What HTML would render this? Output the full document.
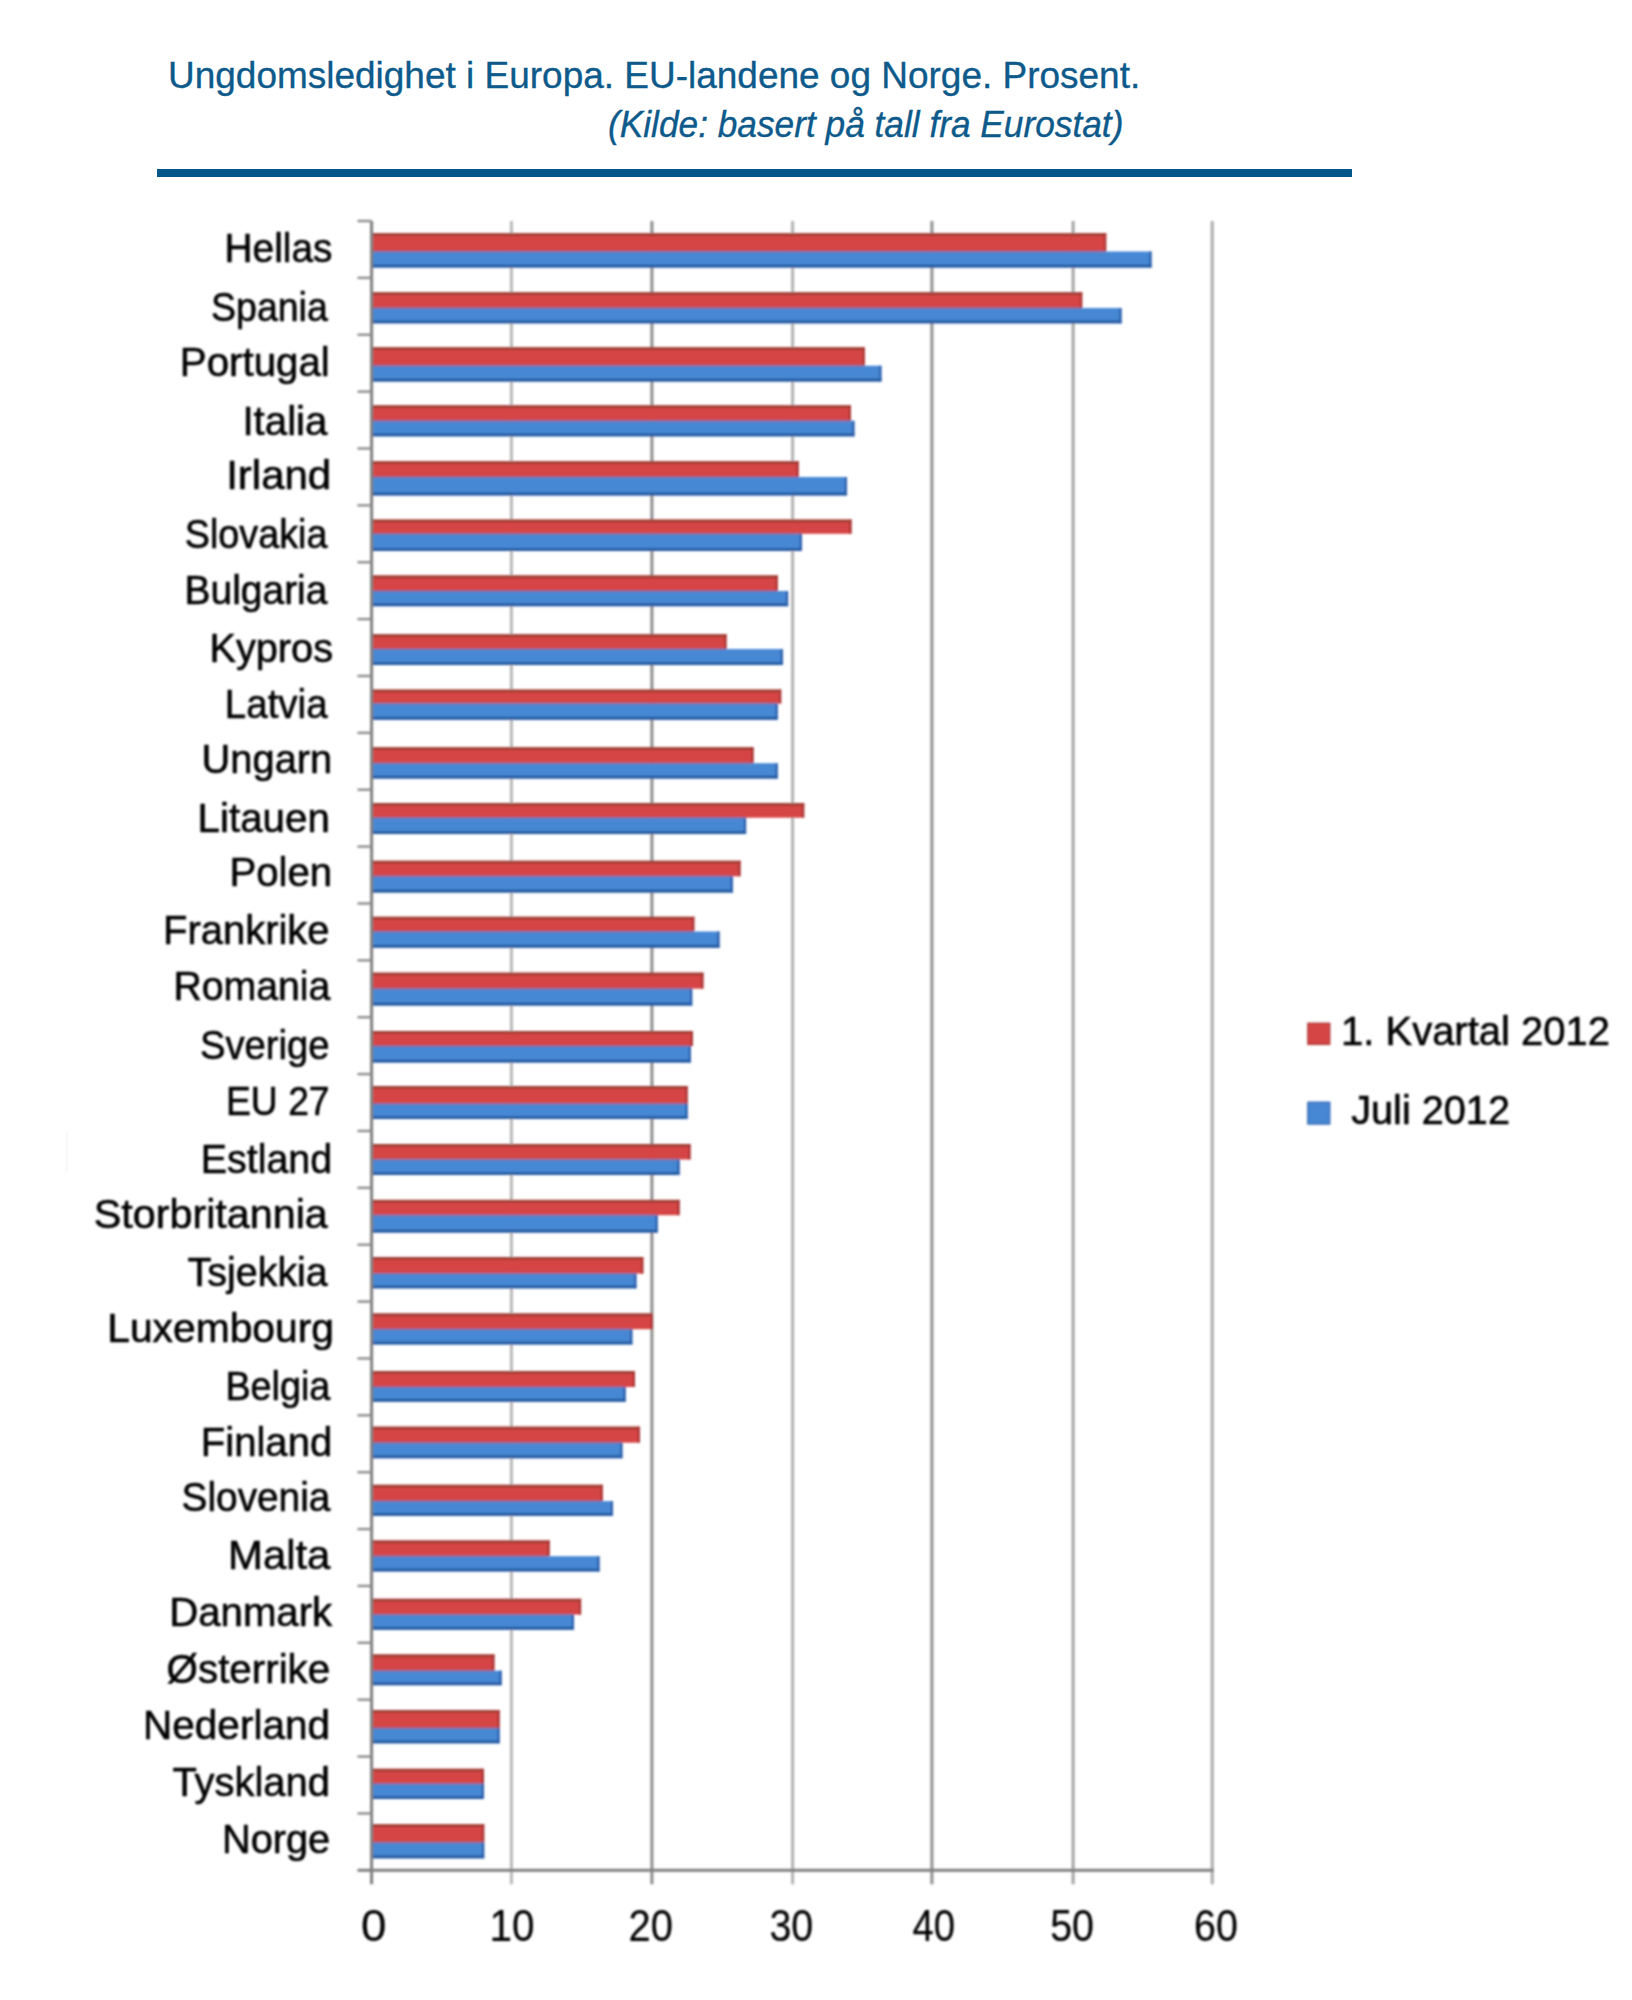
<!DOCTYPE html>
<html><head><meta charset="utf-8"><title>Ungdomsledighet i Europa</title>
<style>
html,body{margin:0;padding:0;background:#fff;}
body{width:1632px;height:2000px;overflow:hidden;position:relative;}
svg{position:absolute;left:0;top:0;display:block;}
.t{font-family:"Liberation Sans",Arial,sans-serif;fill:#0d5a8b;stroke:#0d5a8b;stroke-width:0.35px;}
.l{font-family:"Liberation Sans",Arial,sans-serif;fill:#050505;stroke:#050505;stroke-width:0.6px;}
</style></head><body>
<svg width="1632" height="2000" viewBox="0 0 1632 2000">
<defs><filter id="b" x="-2%" y="-2%" width="104%" height="104%"><feGaussianBlur stdDeviation="1.0"/></filter></defs>
<rect x="157" y="169" width="1195" height="8" fill="#03588a"/>
<g filter="url(#b)">
<rect x="66" y="1133" width="1.2" height="40" fill="#efefef"/>
<rect x="509.9" y="221" width="3" height="1663.3" fill="#b8b8b8"/>
<rect x="650.4" y="221" width="3" height="1663.3" fill="#8c8c8c"/>
<rect x="791.1" y="221" width="3" height="1663.3" fill="#b2b2b2"/>
<rect x="930.4" y="221" width="3" height="1663.3" fill="#8f8f8f"/>
<rect x="1071.6" y="221" width="3" height="1663.3" fill="#a2a2a2"/>
<rect x="1210.7" y="221" width="3" height="1663.3" fill="#aaaaaa"/>
<rect x="372.6" y="233.3" width="733.6" height="18.2" fill="#d64444"/>
<rect x="372.6" y="233.3" width="733.6" height="2.6" fill="#9c3c32"/>
<rect x="1104" y="233.3" width="2.2" height="18.2" fill="#a83434"/>
<rect x="372.6" y="251.5" width="778.9" height="16" fill="#4688d4"/>
<rect x="372.6" y="264.7" width="778.9" height="2.8" fill="#22569e"/>
<rect x="1149.3" y="251.5" width="2.2" height="16" fill="#2a5ca8"/>
<rect x="372.6" y="250.5" width="731.8" height="2" fill="#8c6a9c" fill-opacity="0.75"/>
<rect x="372.6" y="292.3" width="709.6" height="15.7" fill="#d64444"/>
<rect x="372.6" y="292.3" width="709.6" height="2.6" fill="#9c3c32"/>
<rect x="1080" y="292.3" width="2.2" height="15.7" fill="#a83434"/>
<rect x="372.6" y="308" width="748.9" height="15.3" fill="#4688d4"/>
<rect x="372.6" y="320.5" width="748.9" height="2.8" fill="#22569e"/>
<rect x="1119.3" y="308" width="2.2" height="15.3" fill="#2a5ca8"/>
<rect x="372.6" y="307" width="707.8" height="2" fill="#8c6a9c" fill-opacity="0.75"/>
<rect x="372.6" y="347.3" width="492.1" height="18.4" fill="#d64444"/>
<rect x="372.6" y="347.3" width="492.1" height="2.6" fill="#9c3c32"/>
<rect x="862.5" y="347.3" width="2.2" height="18.4" fill="#a83434"/>
<rect x="372.6" y="365.7" width="508.8" height="15.8" fill="#4688d4"/>
<rect x="372.6" y="378.7" width="508.8" height="2.8" fill="#22569e"/>
<rect x="879.2" y="365.7" width="2.2" height="15.8" fill="#2a5ca8"/>
<rect x="372.6" y="364.7" width="490.3" height="2" fill="#8c6a9c" fill-opacity="0.75"/>
<rect x="372.6" y="405.4" width="478.3" height="15.4" fill="#d64444"/>
<rect x="372.6" y="405.4" width="478.3" height="2.6" fill="#9c3c32"/>
<rect x="848.7" y="405.4" width="2.2" height="15.4" fill="#a83434"/>
<rect x="372.6" y="420.8" width="481.8" height="15.5" fill="#4688d4"/>
<rect x="372.6" y="433.5" width="481.8" height="2.8" fill="#22569e"/>
<rect x="852.2" y="420.8" width="2.2" height="15.5" fill="#2a5ca8"/>
<rect x="372.6" y="419.8" width="476.5" height="2" fill="#8c6a9c" fill-opacity="0.75"/>
<rect x="372.6" y="461.3" width="426" height="15.7" fill="#d64444"/>
<rect x="372.6" y="461.3" width="426" height="2.6" fill="#9c3c32"/>
<rect x="796.4" y="461.3" width="2.2" height="15.7" fill="#a83434"/>
<rect x="372.6" y="477" width="474.3" height="18.4" fill="#4688d4"/>
<rect x="372.6" y="492.6" width="474.3" height="2.8" fill="#22569e"/>
<rect x="844.7" y="477" width="2.2" height="18.4" fill="#2a5ca8"/>
<rect x="372.6" y="476" width="424.2" height="2" fill="#8c6a9c" fill-opacity="0.75"/>
<rect x="372.6" y="519.6" width="478.9" height="14.2" fill="#d64444"/>
<rect x="372.6" y="519.6" width="478.9" height="2.6" fill="#9c3c32"/>
<rect x="849.3" y="519.6" width="2.2" height="14.2" fill="#a83434"/>
<rect x="372.6" y="533.8" width="429.4" height="17.2" fill="#4688d4"/>
<rect x="372.6" y="548.2" width="429.4" height="2.8" fill="#22569e"/>
<rect x="799.8" y="533.8" width="2.2" height="17.2" fill="#2a5ca8"/>
<rect x="372.6" y="532.8" width="427.6" height="2" fill="#8c6a9c" fill-opacity="0.75"/>
<rect x="372.6" y="575.5" width="405.1" height="15.5" fill="#d64444"/>
<rect x="372.6" y="575.5" width="405.1" height="2.6" fill="#9c3c32"/>
<rect x="775.5" y="575.5" width="2.2" height="15.5" fill="#a83434"/>
<rect x="372.6" y="591" width="415.5" height="15.2" fill="#4688d4"/>
<rect x="372.6" y="603.4" width="415.5" height="2.8" fill="#22569e"/>
<rect x="785.9" y="591" width="2.2" height="15.2" fill="#2a5ca8"/>
<rect x="372.6" y="590" width="403.3" height="2" fill="#8c6a9c" fill-opacity="0.75"/>
<rect x="372.6" y="634.3" width="353.9" height="14.7" fill="#d64444"/>
<rect x="372.6" y="634.3" width="353.9" height="2.6" fill="#9c3c32"/>
<rect x="724.3" y="634.3" width="2.2" height="14.7" fill="#a83434"/>
<rect x="372.6" y="649" width="410.3" height="16" fill="#4688d4"/>
<rect x="372.6" y="662.2" width="410.3" height="2.8" fill="#22569e"/>
<rect x="780.7" y="649" width="2.2" height="16" fill="#2a5ca8"/>
<rect x="372.6" y="648" width="352.1" height="2" fill="#8c6a9c" fill-opacity="0.75"/>
<rect x="372.6" y="689.6" width="408.6" height="13.9" fill="#d64444"/>
<rect x="372.6" y="689.6" width="408.6" height="2.6" fill="#9c3c32"/>
<rect x="779" y="689.6" width="2.2" height="13.9" fill="#a83434"/>
<rect x="372.6" y="703.5" width="405.1" height="16.2" fill="#4688d4"/>
<rect x="372.6" y="716.9" width="405.1" height="2.8" fill="#22569e"/>
<rect x="775.5" y="703.5" width="2.2" height="16.2" fill="#2a5ca8"/>
<rect x="372.6" y="702.5" width="403.3" height="2" fill="#8c6a9c" fill-opacity="0.75"/>
<rect x="372.6" y="747.3" width="380.9" height="15.9" fill="#d64444"/>
<rect x="372.6" y="747.3" width="380.9" height="2.6" fill="#9c3c32"/>
<rect x="751.3" y="747.3" width="2.2" height="15.9" fill="#a83434"/>
<rect x="372.6" y="763.2" width="405.1" height="15.3" fill="#4688d4"/>
<rect x="372.6" y="775.7" width="405.1" height="2.8" fill="#22569e"/>
<rect x="775.5" y="763.2" width="2.2" height="15.3" fill="#2a5ca8"/>
<rect x="372.6" y="762.2" width="379.1" height="2" fill="#8c6a9c" fill-opacity="0.75"/>
<rect x="372.6" y="803" width="431.6" height="14.7" fill="#d64444"/>
<rect x="372.6" y="803" width="431.6" height="2.6" fill="#9c3c32"/>
<rect x="802" y="803" width="2.2" height="14.7" fill="#a83434"/>
<rect x="372.6" y="817.7" width="373.5" height="16.3" fill="#4688d4"/>
<rect x="372.6" y="831.2" width="373.5" height="2.8" fill="#22569e"/>
<rect x="743.9" y="817.7" width="2.2" height="16.3" fill="#2a5ca8"/>
<rect x="372.6" y="816.7" width="371.7" height="2" fill="#8c6a9c" fill-opacity="0.75"/>
<rect x="372.6" y="860.8" width="367.9" height="15.5" fill="#d64444"/>
<rect x="372.6" y="860.8" width="367.9" height="2.6" fill="#9c3c32"/>
<rect x="738.3" y="860.8" width="2.2" height="15.5" fill="#a83434"/>
<rect x="372.6" y="876.3" width="360.2" height="16.2" fill="#4688d4"/>
<rect x="372.6" y="889.7" width="360.2" height="2.8" fill="#22569e"/>
<rect x="730.6" y="876.3" width="2.2" height="16.2" fill="#2a5ca8"/>
<rect x="372.6" y="875.3" width="358.4" height="2" fill="#8c6a9c" fill-opacity="0.75"/>
<rect x="372.6" y="916.8" width="321.7" height="14.7" fill="#d64444"/>
<rect x="372.6" y="916.8" width="321.7" height="2.6" fill="#9c3c32"/>
<rect x="692.1" y="916.8" width="2.2" height="14.7" fill="#a83434"/>
<rect x="372.6" y="931.5" width="346.9" height="16.2" fill="#4688d4"/>
<rect x="372.6" y="944.9" width="346.9" height="2.8" fill="#22569e"/>
<rect x="717.3" y="931.5" width="2.2" height="16.2" fill="#2a5ca8"/>
<rect x="372.6" y="930.5" width="319.9" height="2" fill="#8c6a9c" fill-opacity="0.75"/>
<rect x="372.6" y="972.7" width="330.8" height="16" fill="#d64444"/>
<rect x="372.6" y="972.7" width="330.8" height="2.6" fill="#9c3c32"/>
<rect x="701.2" y="972.7" width="2.2" height="16" fill="#a83434"/>
<rect x="372.6" y="988.7" width="319.6" height="16.8" fill="#4688d4"/>
<rect x="372.6" y="1002.7" width="319.6" height="2.8" fill="#22569e"/>
<rect x="690" y="988.7" width="2.2" height="16.8" fill="#2a5ca8"/>
<rect x="372.6" y="987.7" width="317.8" height="2" fill="#8c6a9c" fill-opacity="0.75"/>
<rect x="372.6" y="1031" width="320.3" height="15" fill="#d64444"/>
<rect x="372.6" y="1031" width="320.3" height="2.6" fill="#9c3c32"/>
<rect x="690.7" y="1031" width="2.2" height="15" fill="#a83434"/>
<rect x="372.6" y="1046" width="318.2" height="16.5" fill="#4688d4"/>
<rect x="372.6" y="1059.7" width="318.2" height="2.8" fill="#22569e"/>
<rect x="688.6" y="1046" width="2.2" height="16.5" fill="#2a5ca8"/>
<rect x="372.6" y="1045" width="316.4" height="2" fill="#8c6a9c" fill-opacity="0.75"/>
<rect x="372.6" y="1086" width="315" height="17.8" fill="#d64444"/>
<rect x="372.6" y="1086" width="315" height="2.6" fill="#9c3c32"/>
<rect x="685.4" y="1086" width="2.2" height="17.8" fill="#a83434"/>
<rect x="372.6" y="1103.8" width="315" height="15.2" fill="#4688d4"/>
<rect x="372.6" y="1116.2" width="315" height="2.8" fill="#22569e"/>
<rect x="685.4" y="1103.8" width="2.2" height="15.2" fill="#2a5ca8"/>
<rect x="372.6" y="1102.8" width="313.2" height="2" fill="#8c6a9c" fill-opacity="0.75"/>
<rect x="372.6" y="1144" width="317.9" height="15.5" fill="#d64444"/>
<rect x="372.6" y="1144" width="317.9" height="2.6" fill="#9c3c32"/>
<rect x="688.3" y="1144" width="2.2" height="15.5" fill="#a83434"/>
<rect x="372.6" y="1159.5" width="307" height="15.5" fill="#4688d4"/>
<rect x="372.6" y="1172.2" width="307" height="2.8" fill="#22569e"/>
<rect x="677.4" y="1159.5" width="2.2" height="15.5" fill="#2a5ca8"/>
<rect x="372.6" y="1158.5" width="305.2" height="2" fill="#8c6a9c" fill-opacity="0.75"/>
<rect x="372.6" y="1199.9" width="307" height="15.3" fill="#d64444"/>
<rect x="372.6" y="1199.9" width="307" height="2.6" fill="#9c3c32"/>
<rect x="677.4" y="1199.9" width="2.2" height="15.3" fill="#a83434"/>
<rect x="372.6" y="1215.2" width="285.1" height="17.3" fill="#4688d4"/>
<rect x="372.6" y="1229.7" width="285.1" height="2.8" fill="#22569e"/>
<rect x="655.5" y="1215.2" width="2.2" height="17.3" fill="#2a5ca8"/>
<rect x="372.6" y="1214.2" width="283.3" height="2" fill="#8c6a9c" fill-opacity="0.75"/>
<rect x="372.6" y="1257" width="270.7" height="16.6" fill="#d64444"/>
<rect x="372.6" y="1257" width="270.7" height="2.6" fill="#9c3c32"/>
<rect x="641.1" y="1257" width="2.2" height="16.6" fill="#a83434"/>
<rect x="372.6" y="1273.6" width="263.8" height="14.7" fill="#4688d4"/>
<rect x="372.6" y="1285.5" width="263.8" height="2.8" fill="#22569e"/>
<rect x="634.2" y="1273.6" width="2.2" height="14.7" fill="#2a5ca8"/>
<rect x="372.6" y="1272.6" width="262" height="2" fill="#8c6a9c" fill-opacity="0.75"/>
<rect x="372.6" y="1313.5" width="280.4" height="15.7" fill="#d64444"/>
<rect x="372.6" y="1313.5" width="280.4" height="2.6" fill="#9c3c32"/>
<rect x="650.8" y="1313.5" width="2.2" height="15.7" fill="#a83434"/>
<rect x="372.6" y="1329.2" width="259.7" height="15.2" fill="#4688d4"/>
<rect x="372.6" y="1341.6" width="259.7" height="2.8" fill="#22569e"/>
<rect x="630.1" y="1329.2" width="2.2" height="15.2" fill="#2a5ca8"/>
<rect x="372.6" y="1328.2" width="257.9" height="2" fill="#8c6a9c" fill-opacity="0.75"/>
<rect x="372.6" y="1371" width="262.4" height="16" fill="#d64444"/>
<rect x="372.6" y="1371" width="262.4" height="2.6" fill="#9c3c32"/>
<rect x="632.8" y="1371" width="2.2" height="16" fill="#a83434"/>
<rect x="372.6" y="1387" width="253" height="14.7" fill="#4688d4"/>
<rect x="372.6" y="1398.9" width="253" height="2.8" fill="#22569e"/>
<rect x="623.4" y="1387" width="2.2" height="14.7" fill="#2a5ca8"/>
<rect x="372.6" y="1386" width="251.2" height="2" fill="#8c6a9c" fill-opacity="0.75"/>
<rect x="372.6" y="1426.7" width="267.4" height="16" fill="#d64444"/>
<rect x="372.6" y="1426.7" width="267.4" height="2.6" fill="#9c3c32"/>
<rect x="637.8" y="1426.7" width="2.2" height="16" fill="#a83434"/>
<rect x="372.6" y="1442.7" width="249.8" height="15.5" fill="#4688d4"/>
<rect x="372.6" y="1455.4" width="249.8" height="2.8" fill="#22569e"/>
<rect x="620.2" y="1442.7" width="2.2" height="15.5" fill="#2a5ca8"/>
<rect x="372.6" y="1441.7" width="248" height="2" fill="#8c6a9c" fill-opacity="0.75"/>
<rect x="372.6" y="1484.8" width="230.1" height="16.3" fill="#d64444"/>
<rect x="372.6" y="1484.8" width="230.1" height="2.6" fill="#9c3c32"/>
<rect x="600.5" y="1484.8" width="2.2" height="16.3" fill="#a83434"/>
<rect x="372.6" y="1501.1" width="240.4" height="14.7" fill="#4688d4"/>
<rect x="372.6" y="1513" width="240.4" height="2.8" fill="#22569e"/>
<rect x="610.8" y="1501.1" width="2.2" height="14.7" fill="#2a5ca8"/>
<rect x="372.6" y="1500.1" width="228.3" height="2" fill="#8c6a9c" fill-opacity="0.75"/>
<rect x="372.6" y="1540.5" width="177" height="15.7" fill="#d64444"/>
<rect x="372.6" y="1540.5" width="177" height="2.6" fill="#9c3c32"/>
<rect x="547.4" y="1540.5" width="2.2" height="15.7" fill="#a83434"/>
<rect x="372.6" y="1556.2" width="226.9" height="15.2" fill="#4688d4"/>
<rect x="372.6" y="1568.6" width="226.9" height="2.8" fill="#22569e"/>
<rect x="597.3" y="1556.2" width="2.2" height="15.2" fill="#2a5ca8"/>
<rect x="372.6" y="1555.2" width="175.2" height="2" fill="#8c6a9c" fill-opacity="0.75"/>
<rect x="372.6" y="1598.8" width="208.5" height="15.8" fill="#d64444"/>
<rect x="372.6" y="1598.8" width="208.5" height="2.6" fill="#9c3c32"/>
<rect x="578.9" y="1598.8" width="2.2" height="15.8" fill="#a83434"/>
<rect x="372.6" y="1614.6" width="201.3" height="15.1" fill="#4688d4"/>
<rect x="372.6" y="1626.9" width="201.3" height="2.8" fill="#22569e"/>
<rect x="571.7" y="1614.6" width="2.2" height="15.1" fill="#2a5ca8"/>
<rect x="372.6" y="1613.6" width="199.5" height="2" fill="#8c6a9c" fill-opacity="0.75"/>
<rect x="372.6" y="1654.5" width="121.8" height="16.2" fill="#d64444"/>
<rect x="372.6" y="1654.5" width="121.8" height="2.6" fill="#9c3c32"/>
<rect x="492.2" y="1654.5" width="2.2" height="16.2" fill="#a83434"/>
<rect x="372.6" y="1670.7" width="129" height="14.5" fill="#4688d4"/>
<rect x="372.6" y="1682.4" width="129" height="2.8" fill="#22569e"/>
<rect x="499.4" y="1670.7" width="2.2" height="14.5" fill="#2a5ca8"/>
<rect x="372.6" y="1669.7" width="120" height="2" fill="#8c6a9c" fill-opacity="0.75"/>
<rect x="372.6" y="1710" width="127" height="18.1" fill="#d64444"/>
<rect x="372.6" y="1710" width="127" height="2.6" fill="#9c3c32"/>
<rect x="497.4" y="1710" width="2.2" height="18.1" fill="#a83434"/>
<rect x="372.6" y="1728.1" width="127" height="15.2" fill="#4688d4"/>
<rect x="372.6" y="1740.5" width="127" height="2.8" fill="#22569e"/>
<rect x="497.4" y="1728.1" width="2.2" height="15.2" fill="#2a5ca8"/>
<rect x="372.6" y="1727.1" width="125.2" height="2" fill="#8c6a9c" fill-opacity="0.75"/>
<rect x="372.6" y="1768.8" width="111.4" height="15" fill="#d64444"/>
<rect x="372.6" y="1768.8" width="111.4" height="2.6" fill="#9c3c32"/>
<rect x="481.8" y="1768.8" width="2.2" height="15" fill="#a83434"/>
<rect x="372.6" y="1783.8" width="111.4" height="15.2" fill="#4688d4"/>
<rect x="372.6" y="1796.2" width="111.4" height="2.8" fill="#22569e"/>
<rect x="481.8" y="1783.8" width="2.2" height="15.2" fill="#2a5ca8"/>
<rect x="372.6" y="1782.8" width="109.6" height="2" fill="#8c6a9c" fill-opacity="0.75"/>
<rect x="372.6" y="1824.3" width="111.6" height="18.2" fill="#d64444"/>
<rect x="372.6" y="1824.3" width="111.6" height="2.6" fill="#9c3c32"/>
<rect x="482" y="1824.3" width="2.2" height="18.2" fill="#a83434"/>
<rect x="372.6" y="1842.5" width="111.6" height="15.8" fill="#4688d4"/>
<rect x="372.6" y="1855.5" width="111.6" height="2.8" fill="#22569e"/>
<rect x="482" y="1842.5" width="2.2" height="15.8" fill="#2a5ca8"/>
<rect x="372.6" y="1841.5" width="109.8" height="2" fill="#8c6a9c" fill-opacity="0.75"/>
<rect x="370.1" y="221" width="3" height="1663.3" fill="#7f7f7f"/>
<rect x="357.5" y="1868.8" width="856.2" height="3" fill="#7f7f7f"/>
<rect x="357.5" y="219.8" width="14" height="2.4" fill="#8c8c8c"/>
<rect x="357.5" y="276.67" width="14" height="2.4" fill="#8c8c8c"/>
<rect x="357.5" y="333.54" width="14" height="2.4" fill="#8c8c8c"/>
<rect x="357.5" y="390.42" width="14" height="2.4" fill="#8c8c8c"/>
<rect x="357.5" y="447.29" width="14" height="2.4" fill="#8c8c8c"/>
<rect x="357.5" y="504.16" width="14" height="2.4" fill="#8c8c8c"/>
<rect x="357.5" y="561.03" width="14" height="2.4" fill="#8c8c8c"/>
<rect x="357.5" y="617.91" width="14" height="2.4" fill="#8c8c8c"/>
<rect x="357.5" y="674.78" width="14" height="2.4" fill="#8c8c8c"/>
<rect x="357.5" y="731.65" width="14" height="2.4" fill="#8c8c8c"/>
<rect x="357.5" y="788.52" width="14" height="2.4" fill="#8c8c8c"/>
<rect x="357.5" y="845.4" width="14" height="2.4" fill="#8c8c8c"/>
<rect x="357.5" y="902.27" width="14" height="2.4" fill="#8c8c8c"/>
<rect x="357.5" y="959.14" width="14" height="2.4" fill="#8c8c8c"/>
<rect x="357.5" y="1016.01" width="14" height="2.4" fill="#8c8c8c"/>
<rect x="357.5" y="1072.89" width="14" height="2.4" fill="#8c8c8c"/>
<rect x="357.5" y="1129.76" width="14" height="2.4" fill="#8c8c8c"/>
<rect x="357.5" y="1186.63" width="14" height="2.4" fill="#8c8c8c"/>
<rect x="357.5" y="1243.5" width="14" height="2.4" fill="#8c8c8c"/>
<rect x="357.5" y="1300.38" width="14" height="2.4" fill="#8c8c8c"/>
<rect x="357.5" y="1357.25" width="14" height="2.4" fill="#8c8c8c"/>
<rect x="357.5" y="1414.12" width="14" height="2.4" fill="#8c8c8c"/>
<rect x="357.5" y="1470.99" width="14" height="2.4" fill="#8c8c8c"/>
<rect x="357.5" y="1527.87" width="14" height="2.4" fill="#8c8c8c"/>
<rect x="357.5" y="1584.74" width="14" height="2.4" fill="#8c8c8c"/>
<rect x="357.5" y="1641.61" width="14" height="2.4" fill="#8c8c8c"/>
<rect x="357.5" y="1698.48" width="14" height="2.4" fill="#8c8c8c"/>
<rect x="357.5" y="1755.36" width="14" height="2.4" fill="#8c8c8c"/>
<rect x="357.5" y="1812.23" width="14" height="2.4" fill="#8c8c8c"/>
<rect x="1307.9" y="1023.3" width="21.8" height="21" fill="#d64444" stroke="#b03838" stroke-width="1.4"/>
<rect x="1307.9" y="1102.3" width="21.8" height="21.7" fill="#4688d4" stroke="#2f64b0" stroke-width="1.4"/>
<text id="i_Hellas" class="l" x="224.6" y="262.4" font-size="41" textLength="107.8" lengthAdjust="spacingAndGlyphs">Hellas</text>
<text id="i_Spania" class="l" x="211" y="320.85" font-size="41" textLength="116.8" lengthAdjust="spacingAndGlyphs">Spania</text>
<text id="i_Portugal" class="l" x="179.8" y="375.7" font-size="41" textLength="150" lengthAdjust="spacingAndGlyphs">Portugal</text>
<text id="i_Italia" class="l" x="242.4" y="434.6" font-size="41" textLength="85" lengthAdjust="spacingAndGlyphs">Italia</text>
<text id="i_Irland" class="l" x="226.2" y="489" font-size="41" textLength="105" lengthAdjust="spacingAndGlyphs">Irland</text>
<text id="i_Slovakia" class="l" x="184.8" y="547.8" font-size="41" textLength="142.6" lengthAdjust="spacingAndGlyphs">Slovakia</text>
<text id="i_Bulgaria" class="l" x="184.6" y="603.65" font-size="41" textLength="142.8" lengthAdjust="spacingAndGlyphs">Bulgaria</text>
<text id="i_Kypros" class="l" x="209.4" y="661.65" font-size="41" textLength="123.6" lengthAdjust="spacingAndGlyphs">Kypros</text>
<text id="i_Latvia" class="l" x="224.8" y="717.65" font-size="41" textLength="102.8" lengthAdjust="spacingAndGlyphs">Latvia</text>
<text id="i_Ungarn" class="l" x="201.6" y="772.95" font-size="41" textLength="130.6" lengthAdjust="spacingAndGlyphs">Ungarn</text>
<text id="i_Litauen" class="l" x="197.6" y="831.65" font-size="41" textLength="132.2" lengthAdjust="spacingAndGlyphs">Litauen</text>
<text id="i_Polen" class="l" x="229.4" y="885.9" font-size="41" textLength="102.8" lengthAdjust="spacingAndGlyphs">Polen</text>
<text id="i_Frankrike" class="l" x="163" y="944.1" font-size="41" textLength="166.6" lengthAdjust="spacingAndGlyphs">Frankrike</text>
<text id="i_Romania" class="l" x="173.4" y="1000.25" font-size="41" textLength="157" lengthAdjust="spacingAndGlyphs">Romania</text>
<text id="i_Sverige" class="l" x="200" y="1059.05" font-size="41" textLength="129.6" lengthAdjust="spacingAndGlyphs">Sverige</text>
<text id="i_EU_27" class="l" x="226" y="1114.85" font-size="41" textLength="103.6" lengthAdjust="spacingAndGlyphs">EU 27</text>
<text id="i_Estland" class="l" x="200.8" y="1173.25" font-size="41" textLength="131.4" lengthAdjust="spacingAndGlyphs">Estland</text>
<text id="i_Storbritannia" class="l" x="93.8" y="1228" font-size="41" textLength="234" lengthAdjust="spacingAndGlyphs">Storbritannia</text>
<text id="i_Tsjekkia" class="l" x="187.6" y="1286.3" font-size="41" textLength="140.2" lengthAdjust="spacingAndGlyphs">Tsjekkia</text>
<text id="i_Luxembourg" class="l" x="107.2" y="1342.1" font-size="41" textLength="226.8" lengthAdjust="spacingAndGlyphs">Luxembourg</text>
<text id="i_Belgia" class="l" x="225.4" y="1400.45" font-size="41" textLength="105" lengthAdjust="spacingAndGlyphs">Belgia</text>
<text id="i_Finland" class="l" x="200.8" y="1455.55" font-size="41" textLength="131.4" lengthAdjust="spacingAndGlyphs">Finland</text>
<text id="i_Slovenia" class="l" x="181.6" y="1511.45" font-size="41" textLength="148.8" lengthAdjust="spacingAndGlyphs">Slovenia</text>
<text id="i_Malta" class="l" x="228" y="1569.05" font-size="41" textLength="102.4" lengthAdjust="spacingAndGlyphs">Malta</text>
<text id="i_Danmark" class="l" x="169.2" y="1625.65" font-size="41" textLength="163" lengthAdjust="spacingAndGlyphs">Danmark</text>
<text id="i_Osterrike" class="l" x="166.6" y="1682.95" font-size="41" textLength="163.6" lengthAdjust="spacingAndGlyphs">Østerrike</text>
<text id="i_Nederland" class="l" x="143" y="1738.95" font-size="41" textLength="187" lengthAdjust="spacingAndGlyphs">Nederland</text>
<text id="i_Tyskland" class="l" x="172.4" y="1796.25" font-size="41" textLength="157.6" lengthAdjust="spacingAndGlyphs">Tyskland</text>
<text id="i_Norge" class="l" x="222" y="1852.85" font-size="41" textLength="108.2" lengthAdjust="spacingAndGlyphs">Norge</text>
<text id="i_x0" class="l" x="361" y="1941.25" font-size="43.5" style="stroke-width:0.2px" textLength="25.4" lengthAdjust="spacingAndGlyphs">0</text>
<text id="i_x1" class="l" x="489.4" y="1941.25" font-size="43.5" style="stroke-width:0.2px" textLength="45" lengthAdjust="spacingAndGlyphs">10</text>
<text id="i_x2" class="l" x="628.6" y="1941.25" font-size="43.5" style="stroke-width:0.2px" textLength="44.4" lengthAdjust="spacingAndGlyphs">20</text>
<text id="i_x3" class="l" x="769.4" y="1941.25" font-size="43.5" style="stroke-width:0.2px" textLength="43.8" lengthAdjust="spacingAndGlyphs">30</text>
<text id="i_x4" class="l" x="912.4" y="1941.25" font-size="43.5" style="stroke-width:0.2px" textLength="42.6" lengthAdjust="spacingAndGlyphs">40</text>
<text id="i_x5" class="l" x="1050.2" y="1941.25" font-size="43.5" style="stroke-width:0.2px" textLength="43.8" lengthAdjust="spacingAndGlyphs">50</text>
<text id="i_x6" class="l" x="1194" y="1941.25" font-size="43.5" style="stroke-width:0.2px" textLength="43.8" lengthAdjust="spacingAndGlyphs">60</text>
<text id="i_leg1" class="l" x="1341" y="1044.9" font-size="41" textLength="269" lengthAdjust="spacingAndGlyphs">1. Kvartal 2012</text>
<text id="i_leg2" class="l" x="1351.2" y="1124" font-size="41" textLength="158.8" lengthAdjust="spacingAndGlyphs">Juli 2012</text>
</g>
<text id="i_title" class="t" x="168" y="88.45" font-size="37.3" textLength="972.2" lengthAdjust="spacingAndGlyphs">Ungdomsledighet i Europa. EU-landene og Norge. Prosent.</text>
<text id="i_sub" class="t" x="608" y="137" font-size="37" font-style="italic" textLength="515.4" lengthAdjust="spacingAndGlyphs">(Kilde: basert på tall fra Eurostat)</text>
</svg>
</body></html>
